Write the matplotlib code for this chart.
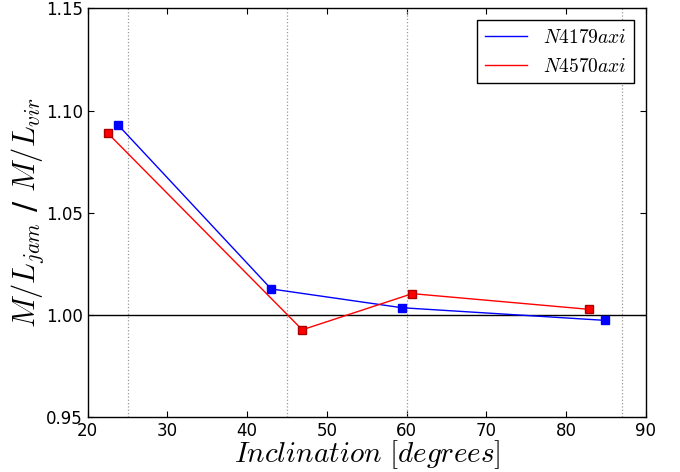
import matplotlib
matplotlib.use("Agg")
import matplotlib.pyplot as plt

# ── Data ──────────────────────────────────────────────────────────────
incl_4179 = [23.8, 43.0, 59.4, 84.9]
ratio_4179 = [1.093, 1.0127, 1.0035, 0.9973]
incl_4570 = [22.5, 46.9, 60.7, 82.9]
ratio_4570 = [1.089, 0.9927, 1.0104, 1.0027]
ref_incl = [25, 45, 60, 87]

# ── Style ─────────────────────────────────────────────────────────────
plt.rcParams.update({
    "mathtext.fontset": "cm",
    "font.family": "DejaVu Sans",
    "xtick.direction": "in",
    "ytick.direction": "in",
    "xtick.top": True,
    "ytick.right": True,
    "xtick.major.size": 4,
    "ytick.major.size": 4,
    "xtick.labelsize": 12,
    "ytick.labelsize": 12,
    "axes.linewidth": 1.0,
})

fig = plt.figure(figsize=(6.8, 4.72), dpi=100)
ax = fig.add_axes([0.129, 0.1165, 0.821, 0.8655])

for x in ref_incl:
    ax.axvline(x, color="#999999", linestyle=":", linewidth=0.9)
ax.axhline(1.0, color="black", linewidth=1.0)

ax.plot(incl_4179, ratio_4179, color="blue", lw=1.0, label="$N4179axi$")
ax.plot(incl_4179, ratio_4179, "s", color="blue", ms=5.5, mec="blue")
ax.plot(incl_4570, ratio_4570, color="red", lw=1.0, label="$N4570axi$")
ax.plot(incl_4570, ratio_4570, "s", color="red", ms=5.5, mec="#aa0000")

ax.set_xlim(20, 90)
ax.set_ylim(0.95, 1.15)
ax.set_xticks(range(20, 91, 10))
ax.set_yticks([0.95, 1.00, 1.05, 1.10, 1.15])
ax.set_yticklabels(["0.95", "1.00", "1.05", "1.10", "1.15"])

ax.set_xlabel(r"$Inclination\ [degrees]$", fontsize=21, labelpad=-1)
ax.set_ylabel(r"$M/L_{jam}$ / $M/L_{vir}$", fontsize=22, labelpad=0)

leg = ax.legend(loc="upper right", fontsize=14, fancybox=False,
                edgecolor="black", framealpha=1.0, handlelength=2.2,
                borderaxespad=0.6)
leg.get_frame().set_linewidth(1.0)

fig.savefig("out.png", dpi=100)
